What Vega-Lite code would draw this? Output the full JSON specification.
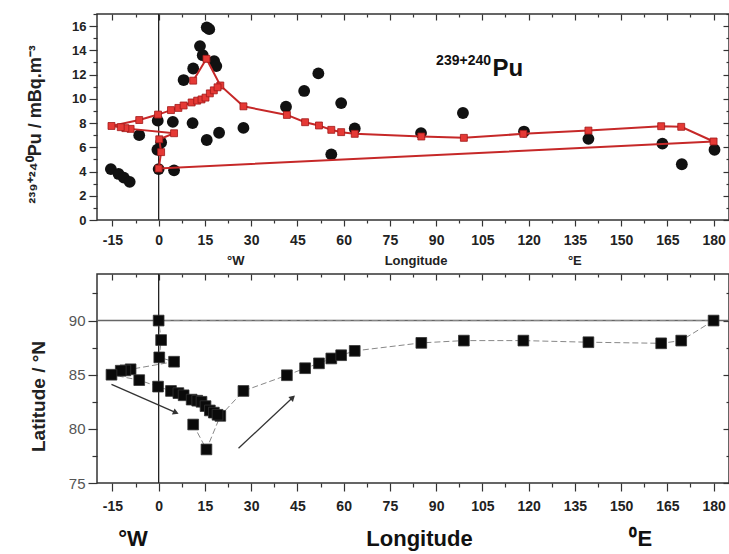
{
  "$schema": "https://vega.github.io/schema/vega-lite/v6.json",
  "padding": {"left": 25, "top": 12, "right": 1, "bottom": 0},
  "background": "white",
  "spacing": 3,
  "config": {
    "view": {"stroke": "#333", "strokeWidth": 1.5},
    "font": "Liberation Sans",
    "axis": {"domain": false, "grid": false, "tickColor": "#333", "tickWidth": 1.2, "labelFont": "Liberation Sans", "labelFontWeight": "bold", "labelColor": "#222", "titleFont": "Liberation Sans", "titleFontWeight": "bold", "titleColor": "#222"}
  },
  "datasets": {
    "measured": [
      {"lon": -15.5, "pu": 4.2}, {"lon": -13.0, "pu": 3.8}, {"lon": -11.3, "pu": 3.5}, {"lon": -9.4, "pu": 3.15},
      {"lon": -6.3, "pu": 7.0}, {"lon": -0.3, "pu": 8.2}, {"lon": -0.4, "pu": 5.8}, {"lon": 0.8, "pu": 6.4},
      {"lon": 0.0, "pu": 4.2}, {"lon": 4.6, "pu": 8.1}, {"lon": 5.0, "pu": 4.1}, {"lon": 8.1, "pu": 11.55},
      {"lon": 11.2, "pu": 12.5}, {"lon": 11.0, "pu": 8.0}, {"lon": 13.4, "pu": 14.35}, {"lon": 14.3, "pu": 13.6},
      {"lon": 15.6, "pu": 15.9}, {"lon": 16.4, "pu": 15.75}, {"lon": 15.6, "pu": 6.6}, {"lon": 18.0, "pu": 13.1},
      {"lon": 18.7, "pu": 12.7}, {"lon": 19.6, "pu": 7.2}, {"lon": 27.5, "pu": 7.6}, {"lon": 41.3, "pu": 9.35},
      {"lon": 47.2, "pu": 10.65}, {"lon": 51.8, "pu": 12.1}, {"lon": 56.0, "pu": 5.42}, {"lon": 59.2, "pu": 9.65},
      {"lon": 63.6, "pu": 7.55}, {"lon": 85.1, "pu": 7.17}, {"lon": 98.7, "pu": 8.83}, {"lon": 118.5, "pu": 7.3},
      {"lon": 139.4, "pu": 6.7}, {"lon": 163.4, "pu": 6.3}, {"lon": 169.7, "pu": 4.6}, {"lon": 180.3, "pu": 5.8}
    ],
    "stations": [
      {"ord": 1, "lon": 11.2, "lat": 80.4, "pu": 11.5},
      {"ord": 2, "lon": 15.5, "lat": 78.1, "pu": 13.3},
      {"ord": 3, "lon": 20.0, "lat": 81.2, "pu": 11.1},
      {"ord": 4, "lon": 27.5, "lat": 83.5, "pu": 9.38},
      {"ord": 5, "lon": 41.6, "lat": 84.95, "pu": 8.67},
      {"ord": 6, "lon": 47.5, "lat": 85.6, "pu": 8.07},
      {"ord": 7, "lon": 52.0, "lat": 86.05, "pu": 7.8},
      {"ord": 8, "lon": 56.0, "lat": 86.5, "pu": 7.44},
      {"ord": 9, "lon": 59.2, "lat": 86.8, "pu": 7.25},
      {"ord": 10, "lon": 63.6, "lat": 87.2, "pu": 7.11},
      {"ord": 11, "lon": 85.2, "lat": 87.94, "pu": 6.89},
      {"ord": 12, "lon": 99.0, "lat": 88.15, "pu": 6.78},
      {"ord": 13, "lon": 118.3, "lat": 88.15, "pu": 7.11},
      {"ord": 14, "lon": 139.4, "lat": 88.0, "pu": 7.38},
      {"ord": 15, "lon": 163.0, "lat": 87.9, "pu": 7.74},
      {"ord": 16, "lon": 169.5, "lat": 88.15, "pu": 7.69},
      {"ord": 17, "lon": 180.0, "lat": 90.0, "pu": 6.48},
      {"ord": 18, "lon": 0.0, "lat": 90.0, "pu": 4.25},
      {"ord": 19, "lon": 0.8, "lat": 88.2, "pu": 5.6},
      {"ord": 20, "lon": 0.2, "lat": 86.6, "pu": 6.66},
      {"ord": 21, "lon": 5.0, "lat": 86.2, "pu": 7.16},
      {"ord": 22, "lon": -9.1, "lat": 85.5, "pu": 7.52},
      {"ord": 23, "lon": -10.8, "lat": 85.4, "pu": 7.58},
      {"ord": 24, "lon": -12.3, "lat": 85.37, "pu": 7.66},
      {"ord": 25, "lon": -15.3, "lat": 85.0, "pu": 7.76},
      {"ord": 26, "lon": -6.3, "lat": 84.5, "pu": 8.25},
      {"ord": 27, "lon": -0.2, "lat": 83.9, "pu": 8.7},
      {"ord": 28, "lon": 4.0, "lat": 83.5, "pu": 9.07},
      {"ord": 29, "lon": 6.4, "lat": 83.3, "pu": 9.25},
      {"ord": 30, "lon": 8.1, "lat": 83.1, "pu": 9.45},
      {"ord": 31, "lon": 10.7, "lat": 82.7, "pu": 9.7},
      {"ord": 32, "lon": 12.5, "lat": 82.6, "pu": 9.85},
      {"ord": 33, "lon": 13.9, "lat": 82.5, "pu": 9.95},
      {"ord": 34, "lon": 15.2, "lat": 82.1, "pu": 10.1},
      {"ord": 35, "lon": 16.6, "lat": 81.7, "pu": 10.45},
      {"ord": 36, "lon": 17.9, "lat": 81.5, "pu": 10.7},
      {"ord": 37, "lon": 19.1, "lat": 81.3, "pu": 10.95}
    ],
    "topText": [
      {"lon": 25, "pu": -3.4, "t": "°W"},
      {"lon": 83.5, "pu": -3.4, "t": "Longitude"},
      {"lon": 135, "pu": -3.4, "t": "°E"}
    ],
    "bottomText": [
      {"lon": -8.3, "lat": 69.8, "t": "°W"},
      {"lon": 84.6, "lat": 69.8, "t": "Longitude"},
      {"lon": 156.4, "lat": 69.8, "t": "⁰E"}
    ],
    "arrows": [
      {"lon": -15.3, "lat": 84.1, "lon2": 5.6, "lat2": 81.5},
      {"lon": 25.9, "lat": 78.2, "lon2": 43.5, "lat2": 82.9}
    ],
    "one": [{}]
  },
  "vconcat": [
    {
      "width": 632,
      "height": 206,
      "resolve": {"axis": {"x": "independent", "y": "independent"}},
      "layer": [
        {
          "data": {"name": "one"},
          "mark": {"type": "rule", "color": "#222", "strokeWidth": 1.3},
          "encoding": {
            "x": {"datum": 0, "type": "quantitative", "scale": {"domain": [-20, 185], "nice": false, "zero": false}, "axis": null}
          }
        },
        {
          "data": {"name": "measured"},
          "mark": {"type": "circle", "size": 140, "color": "#111", "opacity": 1},
          "encoding": {
            "x": {"field": "lon", "type": "quantitative", "scale": {"domain": [-20, 185], "nice": false, "zero": false},
              "axis": {"orient": "bottom", "title": null, "values": [-15,-7.5,0,7.5,15,22.5,30,37.5,45,52.5,60,67.5,75,82.5,90,97.5,105,112.5,120,127.5,135,142.5,150,157.5,165,172.5,180],
                "labelExpr": "datum.value % 15 === 0 ? toString(datum.value) : ''",
                "tickSize": {"condition": {"test": "datum.value % 15 === 0", "value": 6}, "value": 3},
                "labelFontSize": 14, "labelPadding": 7}},
            "y": {"field": "pu", "type": "quantitative", "scale": {"domain": [0, 17], "nice": false, "zero": false},
              "axis": {"orient": "left", "values": [0,1,2,3,4,5,6,7,8,9,10,11,12,13,14,15,16,17],
                "labelExpr": "datum.value % 2 === 0 ? toString(datum.value) : ''",
                "tickSize": {"condition": {"test": "datum.value % 2 === 0", "value": 8}, "value": 4},
                "labelFontSize": 13, "labelPadding": 3,
                "title": "²³⁹⁺²⁴⁰Pu / mBq.m⁻³", "titleFontSize": 18, "titleX": -62, "titleY": 110, "titleBaseline": "middle"}}
          }
        },
        {
          "data": {"name": "stations"},
          "mark": {"type": "line", "color": "#c62828", "strokeWidth": 2},
          "encoding": {
            "x": {"field": "lon", "type": "quantitative", "scale": {"domain": [-20, 185], "nice": false, "zero": false}, "axis": null},
            "y": {"field": "pu", "type": "quantitative", "scale": {"domain": [0, 17], "nice": false, "zero": false}, "axis": null},
            "order": {"field": "ord", "type": "quantitative"}
          }
        },
        {
          "data": {"name": "stations"},
          "mark": {"type": "square", "size": 48, "filled": true, "fill": "#e53935", "stroke": "#a01818", "strokeWidth": 0.8, "opacity": 1},
          "encoding": {
            "x": {"field": "lon", "type": "quantitative", "scale": {"domain": [-20, 185], "nice": false, "zero": false}, "axis": null},
            "y": {"field": "pu", "type": "quantitative", "scale": {"domain": [0, 17], "nice": false, "zero": false}, "axis": null}
          }
        },
        {
          "data": {"name": "topText"},
          "mark": {"type": "text", "fontSize": 13, "fontWeight": "bold", "color": "#222", "baseline": "middle", "align": "center"},
          "encoding": {
            "x": {"field": "lon", "type": "quantitative", "scale": {"domain": [-20, 185], "nice": false, "zero": false}, "axis": null},
            "y": {"field": "pu", "type": "quantitative", "scale": {"domain": [0, 17], "nice": false, "zero": false}, "axis": null},
            "text": {"field": "t"}
          }
        },
        {
          "data": {"name": "one"},
          "mark": {"type": "text", "fontSize": 14, "fontWeight": "bold", "color": "#111", "align": "right", "baseline": "alphabetic"},
          "encoding": {
            "x": {"datum": 107.8, "type": "quantitative", "scale": {"domain": [-20, 185], "nice": false, "zero": false}, "axis": null},
            "y": {"datum": 12.8, "type": "quantitative", "scale": {"domain": [0, 17], "nice": false, "zero": false}, "axis": null},
            "text": {"value": "239+240"}
          }
        },
        {
          "data": {"name": "one"},
          "mark": {"type": "text", "fontSize": 24, "fontWeight": "bold", "color": "#111", "align": "left", "baseline": "alphabetic"},
          "encoding": {
            "x": {"datum": 108.3, "type": "quantitative", "scale": {"domain": [-20, 185], "nice": false, "zero": false}, "axis": null},
            "y": {"datum": 11.9, "type": "quantitative", "scale": {"domain": [0, 17], "nice": false, "zero": false}, "axis": null},
            "text": {"value": "Pu"}
          }
        },
        {
          "data": {"name": "one"},
          "mark": {"type": "point", "opacity": 0},
          "encoding": {
            "x": {"datum": 0, "type": "quantitative", "scale": {"domain": [-20, 185], "nice": false, "zero": false},
              "axis": {"orient": "top", "title": null, "labels": false, "values": [-15,-7.5,0,7.5,15,22.5,30,37.5,45,52.5,60,67.5,75,82.5,90,97.5,105,112.5,120,127.5,135,142.5,150,157.5,165,172.5,180],
                "tickSize": {"condition": {"test": "datum.value % 15 === 0", "value": -6}, "value": -3}}},
            "y": {"datum": 0, "type": "quantitative", "scale": {"domain": [0, 17], "nice": false, "zero": false},
              "axis": {"orient": "right", "title": null, "labels": false, "values": [0,1,2,3,4,5,6,7,8,9,10,11,12,13,14,15,16,17],
                "tickSize": {"condition": {"test": "datum.value % 2 === 0", "value": -6}, "value": -3}}}
          }
        }
      ]
    },
    {
      "width": 632,
      "height": 209,
      "resolve": {"axis": {"x": "independent", "y": "independent"}},
      "layer": [
        {
          "data": {"name": "one"},
          "mark": {"type": "rule", "color": "#222", "strokeWidth": 1.3},
          "encoding": {
            "x": {"datum": 0, "type": "quantitative", "scale": {"domain": [-20, 185], "nice": false, "zero": false}, "axis": null}
          }
        },
        {
          "data": {"name": "one"},
          "mark": {"type": "rule", "color": "#666", "strokeWidth": 1.5},
          "encoding": {
            "y": {"datum": 90, "type": "quantitative", "scale": {"domain": [75, 94.3], "nice": false, "zero": false}, "axis": null}
          }
        },
        {
          "data": {"name": "stations"},
          "mark": {"type": "line", "color": "#888", "strokeWidth": 1, "strokeDash": [6, 3]},
          "encoding": {
            "x": {"field": "lon", "type": "quantitative", "scale": {"domain": [-20, 185], "nice": false, "zero": false}, "axis": null},
            "y": {"field": "lat", "type": "quantitative", "scale": {"domain": [75, 94.3], "nice": false, "zero": false}, "axis": null},
            "order": {"field": "ord", "type": "quantitative"}
          }
        },
        {
          "data": {"name": "stations"},
          "mark": {"type": "square", "size": 115, "filled": true, "fill": "#0a0a0a", "stroke": "#333", "strokeWidth": 0.8, "opacity": 1},
          "encoding": {
            "x": {"field": "lon", "type": "quantitative", "scale": {"domain": [-20, 185], "nice": false, "zero": false},
              "axis": {"orient": "bottom", "title": null, "values": [-15,-7.5,0,7.5,15,22.5,30,37.5,45,52.5,60,67.5,75,82.5,90,97.5,105,112.5,120,127.5,135,142.5,150,157.5,165,172.5,180],
                "labelExpr": "datum.value % 15 === 0 ? toString(datum.value) : ''",
                "tickSize": {"condition": {"test": "datum.value % 15 === 0", "value": 8}, "value": 4},
                "labelFontSize": 14, "labelPadding": 8}},
            "y": {"field": "lat", "type": "quantitative", "scale": {"domain": [75, 94.3], "nice": false, "zero": false},
              "axis": {"orient": "left", "values": [75,77.5,80,82.5,85,87.5,90,92.5],
                "labelExpr": "datum.value % 5 === 0 ? toString(datum.value) : ''",
                "tickSize": {"condition": {"test": "datum.value % 5 === 0", "value": 9}, "value": 5},
                "labelFontSize": 15, "labelFontWeight": "normal", "labelColor": "#555", "labelPadding": 3,
                "title": "Latitude / °N", "titleFontSize": 19, "titleX": -59, "titleY": 122, "titleBaseline": "middle"}}
          }
        },
        {
          "data": {"name": "arrows"},
          "mark": {"type": "rule", "color": "#333", "strokeWidth": 1.3},
          "encoding": {
            "x": {"field": "lon", "type": "quantitative", "scale": {"domain": [-20, 185], "nice": false, "zero": false}, "axis": null},
            "y": {"field": "lat", "type": "quantitative", "scale": {"domain": [75, 94.3], "nice": false, "zero": false}, "axis": null},
            "x2": {"field": "lon2"},
            "y2": {"field": "lat2"}
          }
        },
        {
          "data": {"name": "one"},
          "mark": {"type": "point", "shape": "triangle-up", "filled": true, "color": "#333", "size": 45, "angle": 113.5, "opacity": 1},
          "encoding": {
            "x": {"datum": 5.6, "type": "quantitative", "scale": {"domain": [-20, 185], "nice": false, "zero": false}, "axis": null},
            "y": {"datum": 81.5, "type": "quantitative", "scale": {"domain": [75, 94.3], "nice": false, "zero": false}, "axis": null}
          }
        },
        {
          "data": {"name": "one"},
          "mark": {"type": "point", "shape": "triangle-up", "filled": true, "color": "#333", "size": 45, "angle": 46.8, "opacity": 1},
          "encoding": {
            "x": {"datum": 43.5, "type": "quantitative", "scale": {"domain": [-20, 185], "nice": false, "zero": false}, "axis": null},
            "y": {"datum": 82.9, "type": "quantitative", "scale": {"domain": [75, 94.3], "nice": false, "zero": false}, "axis": null}
          }
        },
        {
          "data": {"name": "bottomText"},
          "mark": {"type": "text", "fontSize": 22, "fontWeight": "bold", "color": "#111", "baseline": "middle", "align": "center"},
          "encoding": {
            "x": {"field": "lon", "type": "quantitative", "scale": {"domain": [-20, 185], "nice": false, "zero": false}, "axis": null},
            "y": {"field": "lat", "type": "quantitative", "scale": {"domain": [75, 94.3], "nice": false, "zero": false}, "axis": null},
            "text": {"field": "t"}
          }
        },
        {
          "data": {"name": "one"},
          "mark": {"type": "point", "opacity": 0},
          "encoding": {
            "x": {"datum": 0, "type": "quantitative", "scale": {"domain": [-20, 185], "nice": false, "zero": false},
              "axis": {"orient": "top", "title": null, "labels": false, "values": [-15,-7.5,0,7.5,15,22.5,30,37.5,45,52.5,60,67.5,75,82.5,90,97.5,105,112.5,120,127.5,135,142.5,150,157.5,165,172.5,180],
                "tickSize": {"condition": {"test": "datum.value % 15 === 0", "value": -6}, "value": -3}}},
            "y": {"datum": 80, "type": "quantitative", "scale": {"domain": [75, 94.3], "nice": false, "zero": false},
              "axis": {"orient": "right", "title": null, "labels": false, "values": [75,77.5,80,82.5,85,87.5,90,92.5],
                "tickSize": {"condition": {"test": "datum.value % 5 === 0", "value": -6}, "value": -3}}}
          }
        }
      ]
    }
  ]
}
